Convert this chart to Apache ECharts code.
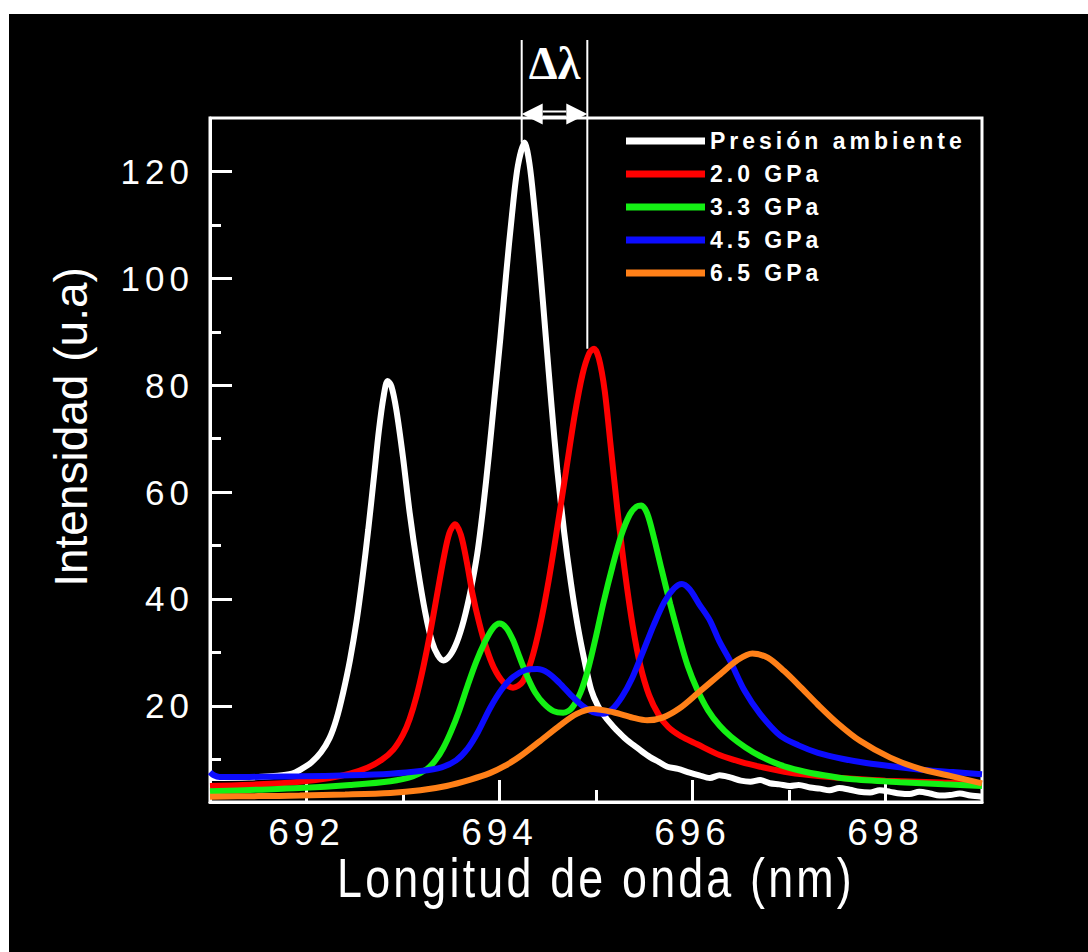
<!DOCTYPE html>
<html>
<head>
<meta charset="utf-8">
<script src="https://cdn.jsdelivr.net/npm/echarts@6/dist/echarts.min.js"></script>
<style>
  html, body { margin: 0; padding: 0; background: #fff; }
  #chart { position: absolute; left: 9px; top: 14px; width: 1079px; height: 938px; background: #000; }
</style>
</head>
<body>
<div id="chart"></div>
<script>
// series names
const seriesNames = ['Presión ambiente', '2.0 GPa', '3.3 GPa', '4.5 GPa', '6.5 GPa']
const seriesColors = ['#ffffff', '#ff0000', '#14f014', '#0c0cff', '#ff8018']

// spectra: [wavelength nm, intensity]
const ambiente = [
  [691.0, 6.5], [691.4, 6.6], [691.7, 6.9], [691.85, 7.3], [691.95, 8.2], [692.05, 9.4], [692.15, 11.3],
  [692.24, 14], [692.31, 17.5], [692.38, 22.5], [692.45, 28.5], [692.52, 36], [692.58, 44], [692.64, 53],
  [692.7, 63], [692.75, 71.5], [692.8, 78], [692.84, 80.8], [692.88, 79.8], [692.93, 75.5], [693.0, 66.5],
  [693.07, 56], [693.15, 46], [693.23, 37.5], [693.3, 32], [693.36, 29.5], [693.42, 28.5], [693.49, 29.5],
  [693.56, 32], [693.63, 36], [693.7, 41.5], [693.77, 48.5], [693.83, 57], [693.89, 67], [693.95, 78],
  [694.01, 89], [694.07, 101], [694.13, 112], [694.19, 121], [694.26, 125.4], [694.31, 121.5], [694.36, 113.5],
  [694.42, 102], [694.48, 89], [694.54, 76], [694.6, 64], [694.67, 52.5], [694.74, 43], [694.81, 35],
  [694.88, 28.5], [694.95, 23], [695.02, 20], [695.1, 17.8], [695.18, 16.1], [695.25, 14.8], [695.32, 13.6],
  [695.4, 12.5], [695.48, 11.4], [695.56, 10.4], [695.65, 9.5], [695.74, 8.6], [695.85, 8.2], [695.97, 7.5],
  [696.07, 7.0], [696.18, 6.5], [696.28, 7.0], [696.39, 6.6], [696.5, 6.0], [696.6, 5.8], [696.7, 6.1],
  [696.8, 5.5], [696.9, 5.3], [697.01, 5.0], [697.1, 5.2], [697.22, 4.7], [697.32, 4.5], [697.42, 4.2],
  [697.52, 4.6], [697.63, 4.3], [697.73, 3.9], [697.84, 3.8], [697.94, 4.2], [698.05, 3.9], [698.15, 3.6],
  [698.25, 3.5], [698.35, 3.9], [698.46, 3.6], [698.56, 3.2], [698.67, 3.3], [698.77, 3.6], [698.88, 3.2],
  [699.0, 3.0]
]
const gpa20 = [
  [691.0, 5.0], [691.5, 5.3], [691.93, 5.8], [692.24, 6.5], [692.45, 7.3], [692.63, 8.4], [692.78, 9.9],
  [692.9, 11.8], [693.0, 14.6], [693.07, 17.6], [693.14, 21.8], [693.21, 27.2], [693.28, 33.5], [693.35, 40.5],
  [693.42, 47.5], [693.48, 52.3], [693.54, 54], [693.6, 52], [693.66, 47], [693.72, 41], [693.79, 35.5],
  [693.86, 31], [693.94, 27.2], [694.04, 24.4], [694.14, 23.4], [694.24, 24.5], [694.33, 28.5], [694.42, 35],
  [694.51, 43.5], [694.6, 53.5], [694.69, 64], [694.78, 74.5], [694.86, 82], [694.93, 86], [694.98, 86.8],
  [695.03, 85], [695.09, 79], [695.15, 69], [695.22, 57], [695.3, 45], [695.38, 35], [695.46, 27.5],
  [695.55, 22], [695.65, 18.3], [695.75, 16], [695.88, 14.3], [696.05, 12.8], [696.28, 10.8], [696.5, 9.5],
  [696.7, 8.6], [697.0, 7.5], [697.33, 6.8], [697.7, 6.3], [698.0, 6.0], [698.5, 5.7], [699.0, 5.4]
]
const gpa33 = [
  [691.0, 4.0], [691.5, 4.3], [691.93, 4.6], [692.45, 5.2], [692.87, 5.9], [693.1, 6.8], [693.25, 8.2],
  [693.34, 9.9], [693.42, 12.2], [693.5, 15.3], [693.58, 19], [693.67, 23.8], [693.76, 28.3], [693.85, 32],
  [693.93, 34.5], [694.0, 35.4], [694.07, 34.6], [694.14, 32.3], [694.21, 29], [694.29, 25.4], [694.37, 22.5],
  [694.46, 20.4], [694.56, 19], [694.66, 18.7], [694.75, 19.6], [694.84, 22.5], [694.92, 27], [695.0, 33],
  [695.08, 39.5], [695.17, 46], [695.26, 51.8], [695.35, 55.8], [695.42, 57.3], [695.47, 57.5], [695.53, 56],
  [695.6, 51.5], [695.68, 45.5], [695.77, 39], [695.86, 33], [695.95, 27.5], [696.05, 23], [696.16, 19.2],
  [696.28, 16.3], [696.4, 14.2], [696.55, 12.2], [696.7, 10.6], [696.9, 9], [697.11, 7.9], [697.36, 7.0],
  [697.63, 6.3], [698.15, 5.7], [698.6, 5.3], [699.0, 5.0]
]
const gpa45 = [
  [691.0, 7.6], [691.04, 7.0], [691.1, 6.7], [691.41, 6.7], [691.93, 6.8], [692.45, 7.0], [692.87, 7.3],
  [693.18, 7.8], [693.4, 8.5], [693.55, 9.8], [693.67, 12], [693.78, 15.2], [693.9, 19.5], [694.02, 23],
  [694.14, 25.4], [694.27, 26.7], [694.39, 26.9], [694.5, 26.2], [694.62, 24.3], [694.74, 22], [694.86, 20],
  [694.97, 18.8], [695.07, 18.5], [695.17, 19.4], [695.27, 21.7], [695.37, 25], [695.48, 29.8], [695.6, 35.2],
  [695.71, 39.5], [695.81, 42], [695.89, 42.8], [695.97, 41.8], [696.07, 39], [696.18, 36], [696.28, 32],
  [696.39, 28.4], [696.54, 22.8], [696.7, 18.5], [696.91, 14.4], [697.1, 12.6], [697.3, 11.2], [697.55, 10.1],
  [697.8, 9.3], [698.1, 8.6], [698.4, 8.0], [698.7, 7.6], [699.0, 7.2]
]
const gpa65 = [
  [691.0, 3.0], [691.5, 3.1], [691.93, 3.2], [692.4, 3.4], [692.87, 3.7], [693.18, 4.2], [693.45, 5.0],
  [693.7, 6.2], [693.9, 7.4], [694.05, 8.7], [694.21, 10.5], [694.42, 13.4], [694.63, 16.4], [694.8, 18.5],
  [694.97, 19.4], [695.18, 18.8], [695.38, 17.8], [695.53, 17.3], [695.69, 17.8], [695.87, 19.6], [696.05, 22.3],
  [696.28, 25.8], [696.47, 28.6], [696.62, 29.8], [696.78, 29], [696.95, 26.5], [697.12, 23.5], [697.3, 20.2],
  [697.5, 16.8], [697.74, 13.4], [698.05, 10.3], [698.36, 8.2], [698.67, 6.9], [699.0, 5.5]
]
const allSeries = [ambiente, gpa20, gpa33, gpa45, gpa65]

// axis ticks
const xMajor = [692, 694, 696, 698]
const xMinor = [693, 695, 697]
const yMajor = [20, 40, 60, 80, 100, 120]
const yMinor = [10, 30, 50, 70, 90, 110]
const xRange = [691, 699]
const yRange = [2, 130]
const xTitle = 'Longitud de onda (nm)'

// delta lambda markers (nm)
const deltaLambda = [694.23, 694.91]

const chart = echarts.init(document.getElementById('chart'), null, { renderer: 'svg' })

const white = '#ffffff'
const baseFont = 'Liberation Sans, Arial, sans-serif'

function valueAxis(extra) {
  return Object.assign({
    type: 'value',
    splitLine: { show: false },
    axisLine: { show: true, lineStyle: { color: white, width: 3 } },
    axisTick: { show: true, inside: true, lineStyle: { color: white, width: 3 } },
    axisLabel: { show: false }
  }, extra)
}

chart.setOption({
  backgroundColor: '#000',
  animation: false,
  grid: {
    left: 201, top: 104, right: 106, bottom: 150,
    show: true, borderColor: white, borderWidth: 3, backgroundColor: '#000'
  },
  legend: {
    orient: 'vertical',
    left: 617, top: 114, padding: 0,
    icon: 'rect',
    itemWidth: 79, itemHeight: 7, itemGap: 7,
    data: seriesNames,
    textStyle: { color: white, fontSize: 23, fontWeight: 'bold', fontFamily: baseFont, lineHeight: 26 }
  },
  xAxis: [
    valueAxis({
      min: xRange[0], max: xRange[1], position: 'bottom',
      axisTick: { show: true, inside: true, length: 22, customValues: xMajor, lineStyle: { color: white, width: 3 } },
      axisLabel: { show: true, customValues: xMajor, color: white, fontSize: 37, fontFamily: baseFont, margin: 12 }
    }),
    valueAxis({
      min: xRange[0], max: xRange[1], position: 'bottom',
      axisLine: { show: false },
      axisTick: { show: true, inside: true, length: 12, customValues: xMinor, lineStyle: { color: white, width: 3 } }
    })
  ],
  yAxis: [
    valueAxis({
      min: yRange[0], max: yRange[1], position: 'left',
      axisTick: { show: true, inside: true, length: 22, customValues: yMajor, lineStyle: { color: white, width: 3 } },
      axisLabel: { show: true, customValues: yMajor, color: white, fontSize: 35, fontFamily: baseFont, margin: 16 },
      name: 'Intensidad (u.a)',
      nameLocation: 'middle',
      nameGap: 116,
      nameTextStyle: { color: white, fontSize: 46, fontFamily: baseFont, padding: [0, 0, 0, 66] }
    }),
    valueAxis({
      min: yRange[0], max: yRange[1], position: 'left',
      axisLine: { show: false },
      axisTick: { show: true, inside: true, length: 11, customValues: yMinor, lineStyle: { color: white, width: 3 } }
    })
  ],
  series: allSeries.map((data, i) => ({
    name: seriesNames[i],
    type: 'line',
    xAxisIndex: 0,
    yAxisIndex: 0,
    data: data,
    showSymbol: false,
    smooth: 0.3,
    color: seriesColors[i],
    lineStyle: { width: 6, color: seriesColors[i] },
    z: 2 + i
  }))
})

// delta lambda annotation, tied to the data coordinates
const peakAmb = Math.max(...ambiente.map(p => p[1]))
const peakRed = Math.max(...gpa20.map(p => p[1]))
const pl = chart.convertToPixel({ gridIndex: 0 }, [deltaLambda[0], peakAmb])
const pr = chart.convertToPixel({ gridIndex: 0 }, [deltaLambda[1], peakRed])
const midX = chart.convertToPixel({ xAxisIndex: 0 }, (xRange[0] + xRange[1]) / 2)
const lineTop = 26
const arrowY = 100
const head = 21
const thin = { stroke: white, lineWidth: 2 }

chart.setOption({
  graphic: [
    { type: 'line', shape: { x1: pl[0], y1: lineTop, x2: pl[0], y2: pl[1] }, style: thin, z: 20 },
    { type: 'line', shape: { x1: pr[0], y1: lineTop, x2: pr[0], y2: pr[1] }, style: thin, z: 20 },
    { type: 'polygon', shape: { points: [[pl[0], arrowY], [pl[0] + head, arrowY - 10.5], [pl[0] + head, arrowY + 10.5]] }, style: { fill: white }, z: 20 },
    { type: 'polygon', shape: { points: [[pr[0], arrowY], [pr[0] - head, arrowY - 10.5], [pr[0] - head, arrowY + 10.5]] }, style: { fill: white }, z: 20 },
    { type: 'line', shape: { x1: pl[0] + head, y1: arrowY - 2.5, x2: pr[0] - head, y2: arrowY - 2.5 }, style: thin, z: 20 },
    { type: 'line', shape: { x1: pl[0] + head, y1: arrowY + 2.5, x2: pr[0] - head, y2: arrowY + 2.5 }, style: thin, z: 20 },
    {
      type: 'text', x: (pl[0] + pr[0]) / 2, y: 49, z: 20,
      style: { text: 'Δλ', fill: white, font: 'bold 46px "Liberation Serif", "Times New Roman", serif', align: 'center', verticalAlign: 'middle' }
    },
    // x axis title, condensed like the original lettering
    {
      type: 'text', x: midX, y: 864, scaleX: 0.8, z: 20,
      style: { text: xTitle, fill: white, font: '56px "Liberation Sans", Arial, sans-serif', align: 'center', verticalAlign: 'middle' }
    }
  ]
})

// letter spacing of the original lettering (svg renderer)
function spaceLetters() {
  document.querySelectorAll('#chart text').forEach(t => {
    const s = t.textContent
    let ls = 0
    if (seriesNames.includes(s)) ls = 4
    else if (/^\d+$/.test(s)) ls = 5
    else if (s === xTitle) ls = 4
    t.setAttribute('letter-spacing', ls + 'px')
  })
}
spaceLetters()
chart.on('finished', spaceLetters)
</script>
</body>
</html>
